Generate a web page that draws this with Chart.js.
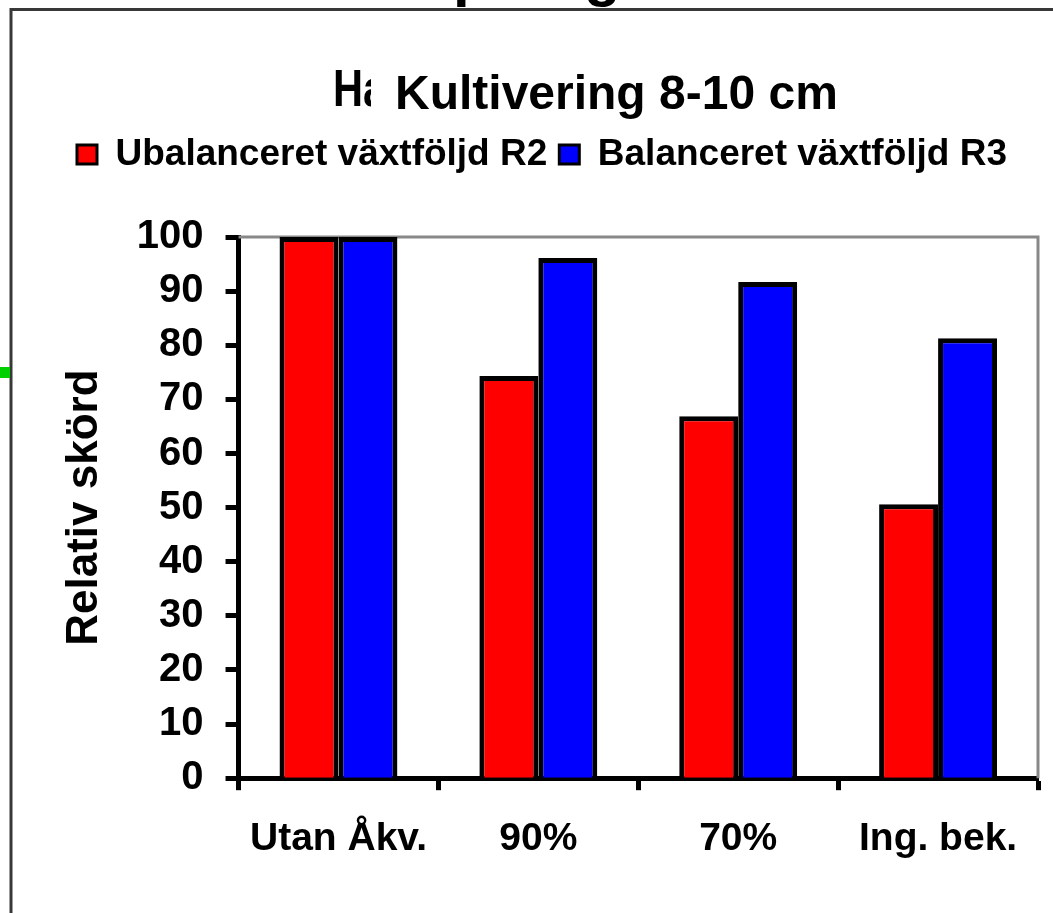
<!DOCTYPE html>
<html>
<head>
<meta charset="utf-8">
<script src="https://cdn.jsdelivr.net/npm/chart.js@4/dist/chart.umd.min.js"></script>
<style>
  html, body { margin: 0; padding: 0; background: #fff; }
  #wrap { width: 1053px; height: 913px; }
</style>
</head>
<body>
<div id="wrap"><canvas id="chart" width="1053" height="913"></canvas></div>
<script>
// data
const categories = ['Utan Åkv.', '90%', '70%', 'Ing. bek.'];
const ubalanceretR2 = [100, 74.3, 66.9, 50.6];
const balanceretR3 = [100, 96.1, 91.7, 81.3];
const seriesNames = ['Ubalanceret växtföljd R2', 'Balanceret växtföljd R3'];
const chartTitle = 'Kultivering 8-10 cm';
const hiddenTitle = 'Ha';
const yTitle = 'Relativ skörd';

Chart.defaults.font.family = '"Liberation Sans", Arial, sans-serif';
Chart.defaults.color = '#000';

// frame, cut-off heading and title box drawn on the canvas
const decorations = {
    id: 'decorations',
    beforeDraw(chart) {
        const ctx = chart.ctx;
        ctx.save();
        ctx.fillStyle = '#fff';
        ctx.fillRect(0, 0, chart.width, chart.height);

        // bits of the slide heading above the frame
        ctx.save();
        ctx.beginPath();
        ctx.rect(0, 0, chart.width, 9);
        ctx.clip();
        ctx.fillStyle = '#000';
        ctx.font = 'bold 60px "Liberation Sans", Arial';
        ctx.textBaseline = 'alphabetic';
        ctx.fillText('p', 453, -5);
        ctx.fillText('g', 584, -5);
        ctx.restore();

        // outer frame
        ctx.strokeStyle = '#383838';
        ctx.lineWidth = 3;
        ctx.beginPath();
        ctx.moveTo(11, chart.height);
        ctx.lineTo(11, 9.5);
        ctx.lineTo(chart.width, 9.5);
        ctx.stroke();

        // green marker at the left edge
        ctx.fillStyle = '#00d000';
        ctx.fillRect(0, 367, 10, 11);

        // original title, covered by the text box
        ctx.save();
        ctx.beginPath();
        ctx.rect(0, 0, 371, 200);
        ctx.clip();
        ctx.translate(333, 92);
        ctx.scale(0.8, 1);
        ctx.font = 'bold 52px "Liberation Sans", Arial';
        ctx.fillStyle = '#000';
        ctx.fillText(hiddenTitle, 0, 0);
        ctx.restore();

        ctx.font = 'bold 48px "Liberation Sans", Arial';
        ctx.fillStyle = '#000';
        ctx.textAlign = 'left';
        ctx.fillText(chartTitle, 395, 96);
        ctx.restore();
    },
    beforeDatasetsDraw(chart) {
        const {ctx, chartArea: a} = chart;
        ctx.save();
        ctx.strokeStyle = '#888';
        ctx.lineWidth = 3;
        ctx.beginPath();
        ctx.moveTo(a.left, a.top);
        ctx.lineTo(a.right, a.top);
        ctx.lineTo(a.right, a.bottom);
        ctx.stroke();
        ctx.restore();
    }
};

const ctx = document.getElementById('chart').getContext('2d');
new Chart(ctx, {
    type: 'bar',
    data: {
        labels: categories,
        datasets: [{
            label: seriesNames[0],
            data: ubalanceretR2,
            backgroundColor: '#ff0000',
            borderColor: '#000',
            borderWidth: 5
        }, {
            label: seriesNames[1],
            data: balanceretR3,
            backgroundColor: '#0000ff',
            borderColor: '#000',
            borderWidth: 5
        }]
    },
    options: {
        responsive: false,
        animation: false,
        layout: { padding: { top: 124, left: 46, right: 15, bottom: 24 } },
        datasets: { bar: { categoryPercentage: 0.59, barPercentage: 1 } },
        plugins: {
            title: { display: false },
            // empty spacer between legend and plot
            subtitle: { display: true, text: '', weight: 500, font: { size: 10 }, padding: { top: 0, bottom: 42 } },
            tooltip: { enabled: false },
            legend: {
                position: 'top',
                labels: {
                    boxWidth: 20,
                    boxHeight: 19,
                    padding: 12,
                    color: '#000',
                    font: { size: 37, weight: 'bold' },
                    generateLabels(chart) {
                        const items = Chart.defaults.plugins.legend.labels.generateLabels(chart);
                        items.forEach(it => { it.lineWidth = 3; });
                        return items;
                    }
                }
            }
        },
        scales: {
            x: {
                grid: {
                    offset: true,
                    drawOnChartArea: false,
                    tickLength: 12,
                    tickWidth: 5,
                    tickColor: '#000'
                },
                border: { display: true, color: '#000', width: 5 },
                ticks: { padding: 26, color: '#000', font: { size: 39, weight: 'bold' } }
            },
            y: {
                min: 0,
                max: 100,
                ticks: { stepSize: 10, padding: 22, color: '#000', font: { size: 40, weight: 'bold' } },
                grid: {
                    drawOnChartArea: false,
                    tickLength: 13,
                    tickWidth: 5,
                    tickColor: '#000'
                },
                border: { display: true, color: '#000', width: 5 },
                title: {
                    display: true,
                    text: yTitle,
                    color: '#000',
                    font: { size: 44, weight: 'bold' },
                    padding: { top: 12, bottom: 4 }
                }
            }
        }
    },
    plugins: [decorations]
});
</script>
</body>
</html>
